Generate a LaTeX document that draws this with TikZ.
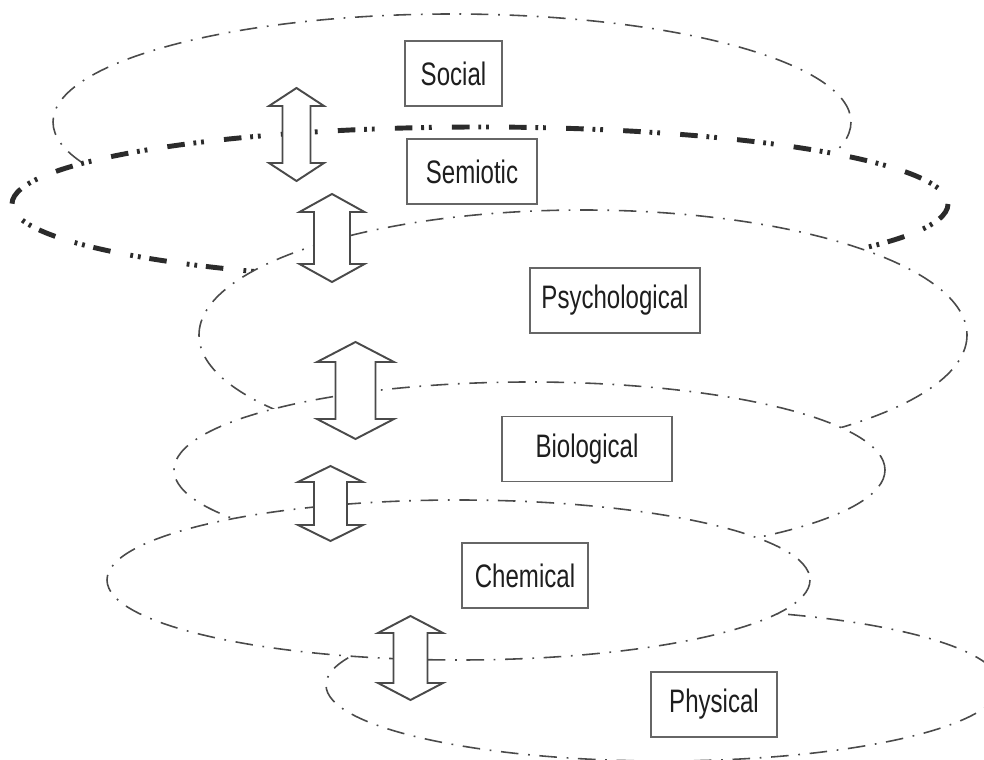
\documentclass[tikz,border=0pt]{standalone}
\usepackage{fontspec}
\setmainfont{Liberation Sans}[FakeStretch=0.74]
\usepackage{tikz}
\usetikzlibrary{positioning}
\definecolor{lInk}{HTML}{4A4A4A}
\definecolor{sInk}{HTML}{2B2B2B}
\definecolor{bLine}{HTML}{666666}
\definecolor{tInk}{HTML}{1E1E1E}
\tikzset{
  layer/.style={draw=lInk, fill=white, line width=0.9pt,
    dash pattern=on 10pt off 5.5pt on 1pt off 5.5pt},
  signlayer/.style={draw=sInk, fill=white, line width=2.8pt,
    dash pattern=on 10pt off 5pt on 1.6pt off 2.8pt on 1.6pt off 11.5pt},
  levelbox/.style={draw=bLine, line width=1.1pt, fill=white, minimum height=1.3cm,
    inner sep=2pt, font=\fontsize{18.5}{20}\selectfont, text=tInk},
  twoway/.style={draw=lInk, line width=1.1pt, fill=white, line join=miter},
}
% x, top, bottom, head half width, shaft half width, head length
\newcommand{\updown}[6]{%
  \filldraw[twoway] (#1,#2) -- ({#1+#4},{#2+#6}) -- ({#1+#5},{#2+#6})
    -- ({#1+#5},{#3-#6}) -- ({#1+#4},{#3-#6}) -- (#1,#3)
    -- ({#1-#4},{#3-#6}) -- ({#1-#5},{#3-#6}) -- ({#1-#5},{#2+#6})
    -- ({#1-#4},{#2+#6}) -- cycle;
}

\begin{document}
\begin{tikzpicture}[x=0.02cm, y=-0.02cm]
  \useasboundingbox (0,0) rectangle (984,760);
  % levels, each one covering the one above
  \draw[layer] (452,122) ellipse [x radius=399, y radius=108];
  \draw[signlayer] (480,204) ellipse [x radius=468, y radius=77];
  \draw[layer] (583,335) ellipse [x radius=384, y radius=125];
  \draw[layer] (529.5,470) ellipse [x radius=355.5, y radius=88];
  \draw[layer] (663,685) ellipse [x radius=337, y radius=76];
  \draw[layer] (458.5,580) ellipse [x radius=351.5, y radius=80];
  % links between levels
  \updown{296.5}{88}{181}{27.5}{14}{18}
  \updown{332}{194}{282}{32.5}{18}{18}
  \updown{355.5}{342}{439}{38.5}{20}{20}
  \updown{330.5}{466}{541}{32.5}{16.5}{16}
  \updown{410.5}{616}{700}{32.5}{17}{17}
  % level names
  \node[levelbox, minimum width=1.94cm] (social) at (453.5,73.5) {Social};
  \node[levelbox, minimum width=2.6cm] (semiotic) at (472,171.5) {Semiotic};
  \node[levelbox, minimum width=3.4cm] (psycho) at (615,300.5) {Psychological};
  \node[levelbox, minimum width=3.4cm] (bio) at (587,449) {Biological};
  \node[levelbox, minimum width=2.52cm] (chem) at (525,575.5) {Chemical};
  \node[levelbox, minimum width=2.52cm] (phys) at (714,704.5) {Physical};
\end{tikzpicture}
\end{document}
